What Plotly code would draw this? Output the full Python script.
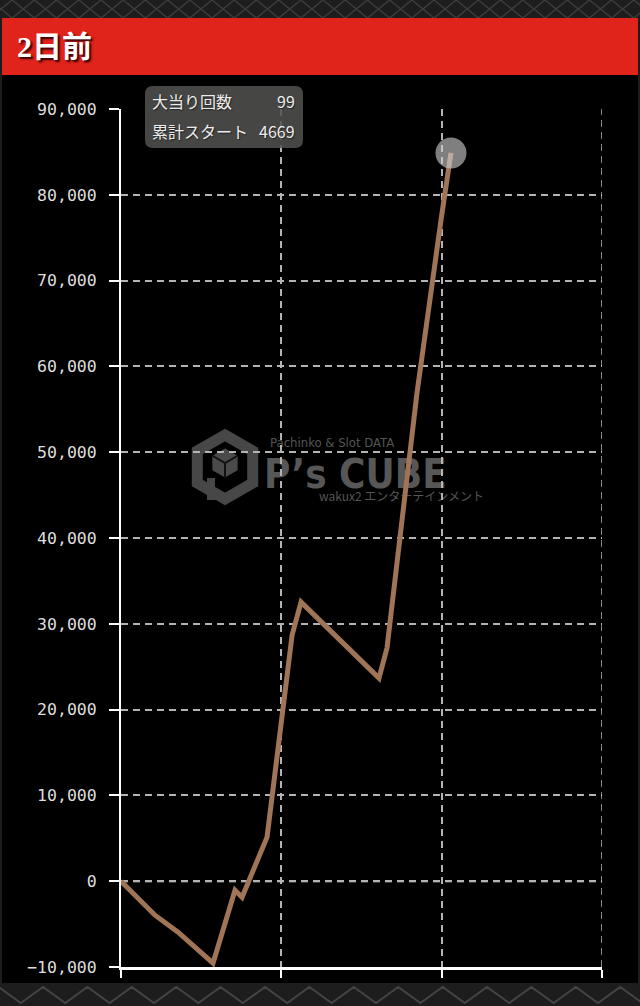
import math
import plotly.graph_objects as go

# ---------------- data ----------------
x_vals = [0, 0.212, 0.356, 0.574, 0.711, 0.755, 0.911, 1.067, 1.123, 1.609, 1.659, 1.846, 1.996, 2.058]
y_vals = [0, -3960, -5950, -9560, -1050, -1870, 5130, 28680, 32530, 23670, 27170, 56900, 77070, 84880]
x_ticks = [0, 1, 2, 3]
y_ticks = list(range(-10000, 90001, 10000))
title_text = "2日前"
tooltip_labels = ["大当り回数", "累計スタート"]
tooltip_values = ["99", "4669"]

# ---------------- layout helpers ----------------
W, H = 640, 1006
L, R, T, B = 121, 38, 109, 39
PW, PH = W - L - R, H - T - B


def fx(p):
    return (p - L) / PW


def fy(p):
    return (H - B - p) / PH


def path(points, close=False):
    s = "M " + " L ".join(f"{fx(a):.5f},{fy(b):.5f}" for a, b in points)
    return s + (" Z" if close else "")


LINE_COLOR = "#a07456"
GRID_COLOR = "#b4b4b4"
DASH = "7px,5px"

fig = go.Figure()

fig.add_trace(go.Scatter(
    x=x_vals, y=y_vals, mode="lines",
    line=dict(color=LINE_COLOR, width=5),
    hoverinfo="skip", showlegend=False,
))
fig.add_trace(go.Scatter(
    x=x_vals[-1:], y=y_vals[-1:], mode="markers",
    marker=dict(size=31, color="rgba(205,205,205,0.62)"),
    hoverinfo="skip", showlegend=False, cliponaxis=False,
))

shapes = []
annotations = []


def rect(x0, y0, x1, y1, color, layer="above"):
    shapes.append(dict(type="rect", xref="paper", yref="paper",
                       x0=fx(x0), x1=fx(x1), y0=fy(y1), y1=fy(y0),
                       fillcolor=color, line=dict(width=0), layer=layer))


# textured frame
rect(0, 0, W, 18, "#1d1d1d")
rect(0, 983, W, H, "#1d1d1d")
rect(0, 0, 2, H, "#1d1d1d")
rect(638, 0, W, H, "#1d1d1d")

step = 22.2
ptsA, ptsB = [], []
k = 0
xx = -10.0
while xx < W + 30:
    ptsA.append((xx, 0 if k % 2 == 0 else 18))
    ptsB.append((xx, 18 if k % 2 == 0 else 0))
    xx += step
    k += 1
for pts in (ptsA, ptsB):
    shapes.append(dict(type="path", xref="paper", yref="paper", path=path(pts),
                       line=dict(color="#3c3c3c", width=1.5), layer="above"))

pts = []
xx = 43 - 44.4
k = 0
while xx < W + 50:
    pts.append((xx, 987 if k % 2 == 0 else 1003))
    xx += 22.2
    k += 1
shapes.append(dict(type="path", xref="paper", yref="paper", path=path(pts),
                   line=dict(color="#444444", width=2), layer="above"))

# red header
rect(2, 18, 638, 75, "#e0231b")
annotations.append(dict(
    x=fx(15), y=fy(47), xref="paper", yref="paper", xanchor="left", yanchor="middle",
    text=f"<b>{title_text}</b>", showarrow=False,
    font=dict(family="Liberation Serif, Noto Sans CJK JP", size=30, color="#ffffff",
              shadow="2px 2px 2px #300000"),
))

# zero line (dashed, brighter) and right-edge gridline
shapes.append(dict(type="line", xref="paper", yref="y", x0=0, x1=1, y0=0, y1=0,
                   line=dict(color="#e8e8e8", width=2, dash=DASH), layer="below"))
shapes.append(dict(type="line", xref="x", yref="paper", x0=x_ticks[-1], x1=x_ticks[-1], y0=0, y1=1,
                   line=dict(color=GRID_COLOR, width=1.5, dash=DASH), layer="below"))

# watermark logo
cx, cy, rr = 225, 467, 32
hexpts = [(cx + rr * math.cos(math.radians(a)), cy - rr * math.sin(math.radians(a)))
          for a in (90, 30, -30, -90, -150, 150)]
shapes.append(dict(type="path", xref="paper", yref="paper", path=path(hexpts, True),
                   line=dict(color="#474747", width=11), fillcolor="rgba(0,0,0,0)", layer="below"))
ccx, ccy, cr = 225, 463, 14
cube = [(ccx + cr * math.cos(math.radians(a)), ccy - cr * math.sin(math.radians(a)))
        for a in (90, 30, -30, -90, -150, 150)]
shapes.append(dict(type="path", xref="paper", yref="paper", path=path(cube, True),
                   line=dict(color="#4a4a4a", width=1), fillcolor="#4a4a4a", layer="below"))
shapes.append(dict(type="path", xref="paper", yref="paper",
                   path=path([cube[5], (ccx, ccy), cube[1]]),
                   line=dict(color="#111111", width=2), layer="below"))
shapes.append(dict(type="path", xref="paper", yref="paper",
                   path=path([(ccx, ccy), cube[3]]),
                   line=dict(color="#111111", width=2), layer="below"))
shapes.append(dict(type="path", xref="paper", yref="paper",
                   path=path([(211, 478), (211, 500)]),
                   line=dict(color="#474747", width=8), layer="below"))


def label_shape(x0, y0, x1, y1, text, size, color, family, pos="middle left"):
    shapes.append(dict(type="rect", xref="paper", yref="paper",
                       x0=fx(x0), x1=fx(x1), y0=fy(y1), y1=fy(y0),
                       line=dict(width=0), fillcolor="rgba(0,0,0,0)", layer="below",
                       label=dict(text=text, textposition=pos, padding=0,
                                  font=dict(size=size, color=color, family=family))))


label_shape(267, 433, 400, 449, "Pachinko &amp; Slot DATA", 13, "#555555", "DejaVu Sans Condensed")
label_shape(261, 452, 470, 490, "<b>P’s CUBE</b>", 40, "#575757", "DejaVu Sans Condensed")
label_shape(316, 489, 470, 505, "wakux2 エンターテインメント", 12, "#555555", "Noto Sans CJK JP")

# tooltip box
x0, x1, y0, y1, r = 145, 303, 86, 148, 8
tp = (f"M {fx(x0 + r):.5f},{fy(y0):.5f} L {fx(x1 - r):.5f},{fy(y0):.5f} "
      f"Q {fx(x1):.5f},{fy(y0):.5f} {fx(x1):.5f},{fy(y0 + r):.5f} "
      f"L {fx(x1):.5f},{fy(y1 - r):.5f} Q {fx(x1):.5f},{fy(y1):.5f} {fx(x1 - r):.5f},{fy(y1):.5f} "
      f"L {fx(x0 + r):.5f},{fy(y1):.5f} Q {fx(x0):.5f},{fy(y1):.5f} {fx(x0):.5f},{fy(y1 - r):.5f} "
      f"L {fx(x0):.5f},{fy(y0 + r):.5f} Q {fx(x0):.5f},{fy(y0):.5f} {fx(x0 + r):.5f},{fy(y0):.5f} Z")
shapes.append(dict(type="path", xref="paper", yref="paper", path=tp,
                   fillcolor="rgba(82,82,80,0.86)", line=dict(width=0), layer="above"))
tip_font = dict(family="Noto Sans CJK JP", size=16, color="#ececec", shadow="1px 1px 1px #222")
for i, (lab, val) in enumerate(zip(tooltip_labels, tooltip_values)):
    yy = 101 + i * 30
    annotations.append(dict(x=fx(150), y=fy(yy), xref="paper", yref="paper",
                            xanchor="left", yanchor="middle", text=lab,
                            showarrow=False, font=tip_font))
    annotations.append(dict(x=fx(297), y=fy(yy), xref="paper", yref="paper",
                            xanchor="right", yanchor="middle", text=val,
                            showarrow=False, font=tip_font))

fig.update_layout(
    width=W, height=H,
    margin=dict(l=L, r=R, t=T, b=B, pad=0),
    paper_bgcolor="#000000",
    plot_bgcolor="rgba(0,0,0,0)",
    shapes=shapes,
    annotations=annotations,
    showlegend=False,
    xaxis=dict(
        range=[0, 3], tickvals=x_ticks, showticklabels=False,
        ticks="outside", ticklen=8, tickwidth=2, tickcolor="#ffffff",
        showline=True, linecolor="#ffffff", linewidth=2.5,
        showgrid=True, gridcolor=GRID_COLOR, gridwidth=1.5, griddash=DASH,
        zeroline=False, fixedrange=True,
    ),
    yaxis=dict(
        range=[-10000, 90000], tickvals=y_ticks, tickformat=",",
        ticks="outside", ticklen=10, tickwidth=2, tickcolor="#ffffff",
        ticklabelstandoff=9,
        tickfont=dict(family="DejaVu Sans Mono", size=16.5, color="#dedede"),
        showline=True, linecolor="#ffffff", linewidth=2,
        showgrid=True, gridcolor=GRID_COLOR, gridwidth=1.5, griddash=DASH,
        zeroline=False, fixedrange=True,
    ),
)

fig.write_html(
    "out.html",
    config={"displayModeBar": False},
    post_script="document.body.style.margin='0px';document.body.style.background='#000';",
)
